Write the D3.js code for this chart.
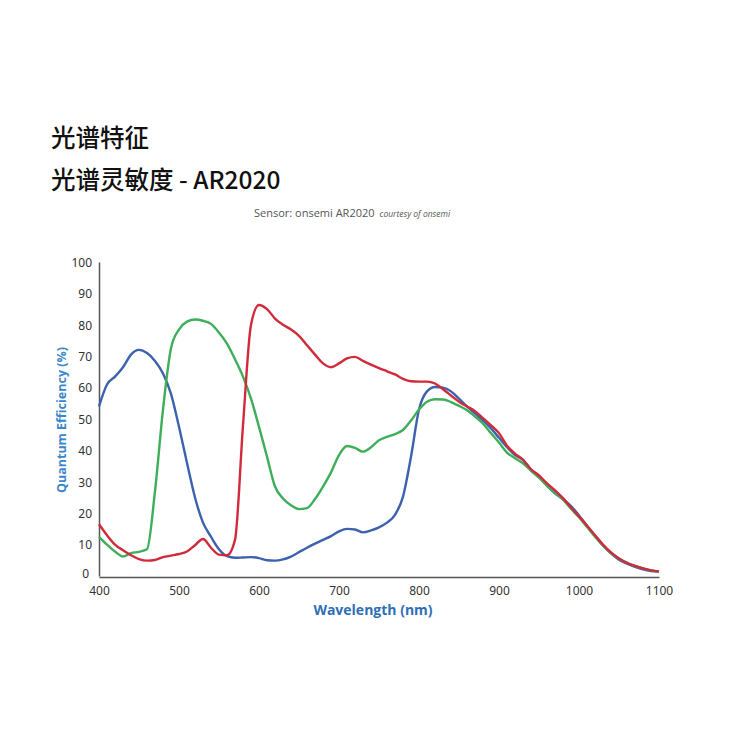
<!DOCTYPE html>
<html>
<head>
<meta charset="utf-8">
<script src="https://cdn.jsdelivr.net/npm/d3@7"></script>
<style>
    body { margin: 0; background: #fff; }
    .tick text { font-family: "Noto Sans", sans-serif; font-size: 12px; fill: #333; }
</style>
</head>
<body>
<svg id="QESvg" width="750" height="750"></svg>
<script>
var QESvg = d3.select("#QESvg")

// wavelength grid (nm) shared by all three curves
var wavelengths = d3.range(400, 1101, 10)

var blueQE = [54, 61, 63.5, 66.5, 70.5, 72, 71, 68.5, 64.5, 58,
    47.5, 36, 25, 17, 12.5, 8.5, 6.3, 5.8, 5.9, 6.0,
    5.7, 5.0, 4.9, 5.3, 6.2, 7.6, 9.0, 10.3, 11.5, 12.7,
    14.2, 15.0, 14.8, 13.9, 14.5, 15.5, 17, 19.5, 25.3, 38,
    53, 58.8, 60.2, 60, 58.8, 56.5, 54, 51.8, 49.5, 47,
    44, 41, 38.5, 37, 33.8, 31.5, 28.8, 26.3, 24.5, 22.3,
    19.3, 16, 12.8, 9.7, 7.2, 5.2, 3.9, 2.9, 2.1, 1.6, 1.4]

var greenQE = [12.5, 10, 7.8, 6.2, 7.3, 7.7, 8.5, 27, 53, 72.5,
    78.5, 81, 81.7, 81.3, 80.3, 77.5, 74, 69, 63.5, 56.5,
    47.5, 38, 28.5, 24.7, 22.5, 21.3, 21.6, 24.5, 28.5, 33,
    38.5, 41.4, 40.8, 39.6, 41, 43.2, 44.3, 45.2, 46.5, 49.5,
    53, 55.5, 56.3, 56.2, 55.4, 54.2, 52.8, 50.8, 48.5, 45.5,
    42.5, 39.3, 37.5, 35.9, 33.5, 31.3, 28.7, 26.5, 24.3, 21.4,
    18.7, 15.6, 12.5, 9.7, 7.3, 5.6, 4.2, 3.2, 2.4, 1.8, 1.4]

var redQE = [16.5, 13, 10, 8.2, 6.6, 5.4, 4.9, 5.1, 6.0, 6.5,
    7, 7.8, 9.8, 11.8, 9.0, 6.8, 6.6, 11.5, 48, 80,
    86.3, 85, 82, 80, 78.5, 76.5, 73.5, 70.5, 67.7, 66.5,
    67.7, 69.3, 69.8, 68.5, 67.3, 66.2, 65.2, 64.2, 62.8, 62,
    61.9, 61.9, 61.3, 59.5, 57.5, 55.5, 54, 52.5, 50.3, 48,
    45.5, 41.5, 39, 37, 34, 32, 29.5, 27.3, 24.8, 21.8,
    19, 16, 13, 10, 7.5, 5.6, 4.2, 3.2, 2.4, 1.8, 1.4]

var xTicks = [400, 500, 600, 700, 800, 900, 1000, 1100]
var yTicks = [0, 10, 20, 30, 40, 50, 60, 70, 80, 90, 100]

var MapLeft = 99, MapTop = 262, XscaleLen = 560, YscaleLen = 314

var Xscale = d3.scaleLinear().domain([400, 1100]).range([MapLeft, MapLeft + XscaleLen])
var Yscale = d3.scaleLinear().domain([0, 100]).range([MapTop + YscaleLen, MapTop])

// titles
QESvg.append("text")
    .attr("x", 51).attr("y", 147)
    .style("font-family", '"Noto Sans CJK SC", sans-serif')
    .style("font-size", "24.5px").style("font-weight", 500).attr("fill", "#111")
    .text("光谱特征")
QESvg.append("text")
    .attr("x", 51).attr("y", 189)
    .style("font-family", '"Noto Sans CJK SC", sans-serif')
    .style("font-size", "24.5px").style("font-weight", 500).attr("fill", "#111")
    .text("光谱灵敏度 - AR2020")

var sub = QESvg.append("text")
    .attr("x", 254).attr("y", 217)
    .style("font-family", '"Open Sans", sans-serif').attr("fill", "#555")
sub.append("tspan").style("font-size", "11px").text("Sensor: onsemi AR2020")
sub.append("tspan").attr("dx", 5).style("font-size", "8.5px").style("font-style", "italic").text("courtesy of onsemi")

// axes
var xAxis = d3.axisBottom(Xscale).tickValues(xTicks).tickSize(0).tickPadding(9).tickFormat(d3.format("d"))
var yAxis = d3.axisLeft(Yscale).tickValues(yTicks).tickSize(0).tickPadding(7)

var gx = QESvg.append("g").attr("transform", `translate(0,${MapTop + YscaleLen + 1})`).call(xAxis)
var gy = QESvg.append("g").attr("transform", `translate(${MapLeft},0)`).call(yAxis)
gx.select(".domain").attr("stroke", "#555").attr("stroke-width", 1.5)
gy.select(".domain").attr("stroke", "#555").attr("stroke-width", 1.5)
gy.selectAll(".tick text").attr("dy", "0.35em")
gy.selectAll(".tick").filter(d => d === 0).select("text").attr("dx", -3).attr("dy", "0.1em")

QESvg.append("text")
    .attr("x", 373).attr("y", 615).attr("text-anchor", "middle")
    .style("font-family", '"Open Sans", sans-serif').style("font-size", "14px").style("font-weight", 700)
    .attr("fill", "#2f6fb5")
    .text("Wavelength (nm)")
QESvg.append("text")
    .attr("transform", `translate(66,${MapTop + YscaleLen / 2 + 1}) rotate(-90)`)
    .attr("text-anchor", "middle")
    .style("font-family", '"Open Sans", sans-serif').style("font-size", "12.5px").style("font-weight", 700)
    .attr("fill", "#3a86c8")
    .text("Quantum Efficiency (%)")

// curves
var lineGen = d3.line()
    .x((d, i) => Xscale(wavelengths[i]))
    .y(d => Yscale(d))
    .curve(d3.curveMonotoneX)

var series = [
    { values: blueQE, color: "#3d62ad" },
    { values: greenQE, color: "#3fae5b" },
    { values: redQE, color: "#d12a3b" }
]
for (var i = 0; i < series.length; i++) {
    QESvg.append("path")
        .attr("d", lineGen(series[i].values))
        .attr("fill", "none")
        .attr("stroke", series[i].color)
        .attr("stroke-width", 2.4)
        .attr("stroke-linejoin", "round")
}
</script>
</body>
</html>
